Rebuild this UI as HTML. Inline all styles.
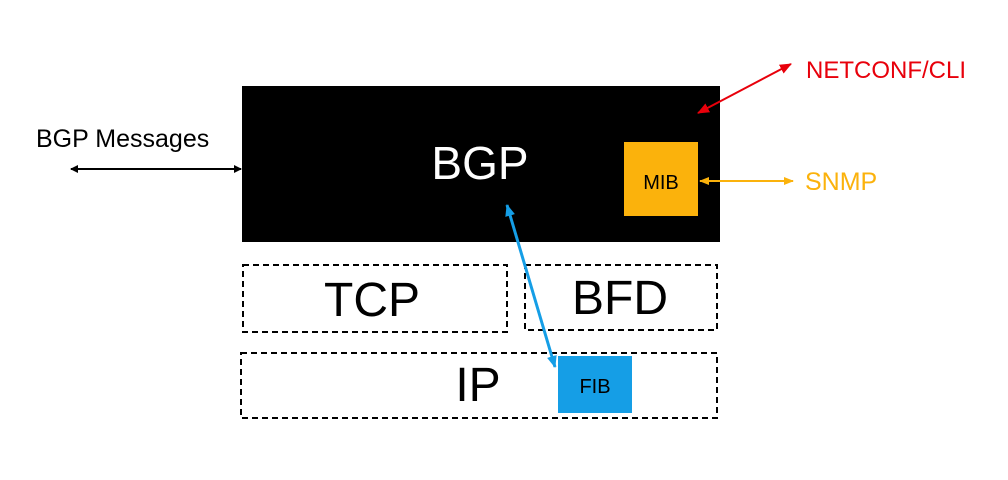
<!DOCTYPE html>
<html><head><meta charset="utf-8"><style>html,body{margin:0;padding:0;background:#fff}svg{display:block}</style></head>
<body>
<svg width="1008" height="480" viewBox="0 0 1008 480" xmlns="http://www.w3.org/2000/svg" font-family="Liberation Sans, sans-serif">
<defs>
<marker id="ak" markerWidth="8" markerHeight="8" refX="7" refY="4" orient="auto-start-reverse" markerUnits="userSpaceOnUse"><path d="M0,0 L8,4 L0,8 z" fill="#000"/></marker>
<marker id="ar" markerWidth="12" markerHeight="10" refX="11" refY="5" orient="auto-start-reverse" markerUnits="userSpaceOnUse"><path d="M0,0 L12,5 L0,10 z" fill="#e8000b"/></marker>
<marker id="ay" markerWidth="10" markerHeight="8" refX="9" refY="4" orient="auto-start-reverse" markerUnits="userSpaceOnUse"><path d="M0,0 L10,4 L0,8 z" fill="#fbb20c"/></marker>
<marker id="ab" markerWidth="12" markerHeight="10" refX="11" refY="5" orient="auto-start-reverse" markerUnits="userSpaceOnUse"><path d="M0,0 L12,5 L0,10 z" fill="#159ee6"/></marker>
</defs>
<rect x="242" y="86" width="478" height="156" fill="#000"/>
<text x="480" y="179" font-size="46" fill="#fff" text-anchor="middle">BGP</text>
<rect x="624" y="142" width="74" height="74" fill="#fbb20c"/>
<text x="661" y="189" font-size="20" fill="#000" text-anchor="middle">MIB</text>
<rect x="243" y="265" width="264" height="67" fill="none" stroke="#000" stroke-width="2" stroke-dasharray="6,4"/>
<text x="372" y="316" font-size="48" text-anchor="middle">TCP</text>
<rect x="525" y="265" width="192" height="65" fill="none" stroke="#000" stroke-width="2" stroke-dasharray="6,4"/>
<text x="620" y="314" font-size="48" text-anchor="middle">BFD</text>
<rect x="241" y="353" width="476" height="65" fill="none" stroke="#000" stroke-width="2" stroke-dasharray="6,4"/>
<text x="478" y="401" font-size="48" text-anchor="middle">IP</text>
<rect x="558" y="356" width="74" height="57" fill="#159ee6"/>
<text x="595" y="393" font-size="20" text-anchor="middle">FIB</text>
<text x="36" y="147" font-size="25">BGP Messages</text>
<line x1="71" y1="169" x2="241" y2="169" stroke="#000" stroke-width="2" marker-start="url(#ak)" marker-end="url(#ak)"/>
<line x1="698" y1="113" x2="791" y2="64" stroke="#e8000b" stroke-width="2" marker-start="url(#ar)" marker-end="url(#ar)"/>
<text x="806" y="78" font-size="24" fill="#e8000b">NETCONF/CLI</text>
<line x1="700" y1="181" x2="793" y2="181" stroke="#fbb20c" stroke-width="2" marker-start="url(#ay)" marker-end="url(#ay)"/>
<text x="805" y="190" font-size="25" fill="#fbb20c">SNMP</text>
<line x1="507" y1="205" x2="555" y2="367" stroke="#159ee6" stroke-width="3" marker-start="url(#ab)" marker-end="url(#ab)"/>
</svg>
</body></html>
